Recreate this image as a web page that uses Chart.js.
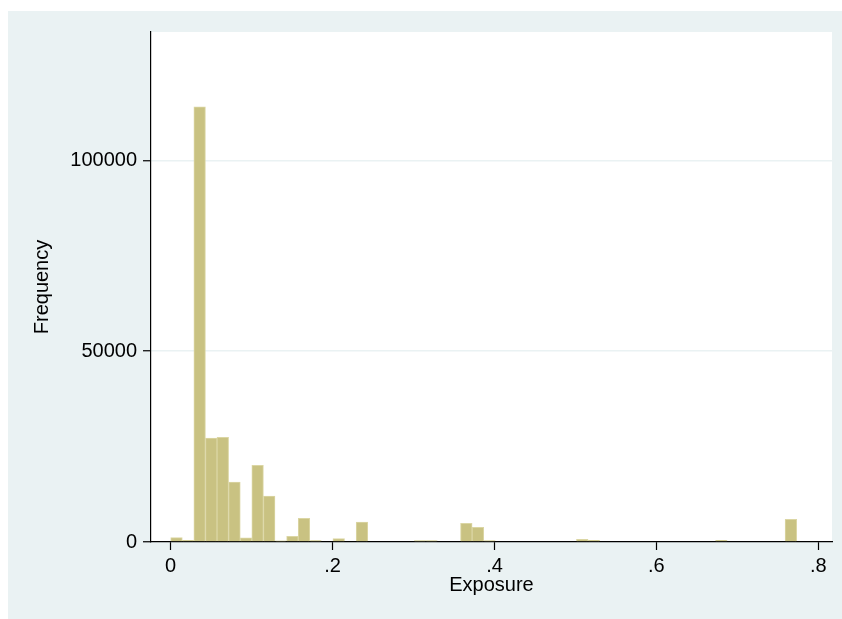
<!DOCTYPE html>
<html>
<head>
<meta charset="utf-8">
<script src="https://cdn.jsdelivr.net/npm/chart.js@4"></script>
<style>
  body { margin: 0; background: #ffffff; }
  #panel { position: absolute; left: 8px; top: 11px; right: 0; bottom: 0; background: #eaf2f3; }
  #wrap { position: absolute; left: 0; top: 0; width: 842px; height: 619px; }
</style>
</head>
<body>
<div id="panel"></div>
<div id="wrap"><canvas id="histChart" width="842" height="619"></canvas></div>
<script>
// histogram bins (centres) that have counts, and their frequencies
const binCentres = [0.0072, 0.0215, 0.0358, 0.0501, 0.0644, 0.0788, 0.0931, 0.1074, 0.1217,
                    0.1360, 0.1504, 0.1647, 0.1790, 0.2076, 0.2363, 0.3079, 0.3222, 0.3652,
                    0.3795, 0.3938, 0.5084, 0.5227, 0.6802, 0.7661];
const frequencies = [1130, 450, 114000, 27200, 27400, 15700, 1100, 20100, 12050,
                     300, 1500, 6200, 400, 900, 5250, 350, 350, 4900,
                     3850, 350, 700, 450, 450, 5950];
const xTicks = [0, 0.2, 0.4, 0.6, 0.8];
const xTickLabels = ['0', '.2', '.4', '.6', '.8'];
const yTicks = [0, 50000, 100000];

const font = { family: 'Liberation Sans, Arial, sans-serif', size: 20 };

const plotBackground = {
    id: 'plotBackground',
    beforeDraw(chart) {
        const {ctx, chartArea: a} = chart;
        ctx.save();
        ctx.fillStyle = '#ffffff';
        ctx.fillRect(a.left, a.top, a.right - a.left, a.bottom - a.top);
        ctx.restore();
    }
};

new Chart(document.getElementById('histChart'), {
    type: 'bar',
    data: {
        datasets: [{
            data: binCentres.map((x, i) => ({x: x, y: frequencies[i]})),
            backgroundColor: '#c9c282',
            borderColor: '#dbd6a4',
            borderWidth: 1,
            barPercentage: 1,
            categoryPercentage: 1
        }]
    },
    options: {
        responsive: false,
        animation: false,
        layout: { padding: { left: 0, top: 32, right: 10, bottom: 0 } },
        plugins: { legend: { display: false }, tooltip: { enabled: false } },
        scales: {
            x: {
                type: 'linear',
                min: -0.0243,
                max: 0.8169,
                offset: false,
                afterFit: (s) => { s.height = 77; },
                afterBuildTicks: (s) => { s.ticks = xTicks.map(v => ({value: v})); },
                grid: { offset: false, drawOnChartArea: false, drawTicks: true, tickLength: 8, tickColor: '#000000', tickWidth: 1.2 },
                border: { color: '#000000', width: 1.2 },
                ticks: {
                    color: '#000000', font: font, padding: 4, maxRotation: 0,
                    callback: (v) => xTickLabels[xTicks.indexOf(v)]
                },
                title: { display: true, text: 'Exposure', color: '#000000', font: font, padding: { top: 0, bottom: 22 } }
            },
            y: {
                min: 0,
                max: 133600,
                afterFit: (s) => { s.width = 151; },
                afterBuildTicks: (s) => { s.ticks = yTicks.map(v => ({value: v})); },
                grid: {
                    color: (c) => c.tick && c.tick.value === 0 ? 'rgba(0,0,0,0)' : '#eaf2f3',
                    lineWidth: 1.5,
                    tickLength: 8, tickColor: '#000000', tickWidth: 1.2
                },
                border: { color: '#000000', width: 1.2 },
                ticks: { color: '#000000', font: font, padding: 6, callback: (v) => String(v) },
                title: { display: true, text: 'Frequency', color: '#000000', font: font, padding: { top: 30, bottom: 0 } }
            }
        }
    },
    plugins: [plotBackground]
});
</script>
</body>
</html>
